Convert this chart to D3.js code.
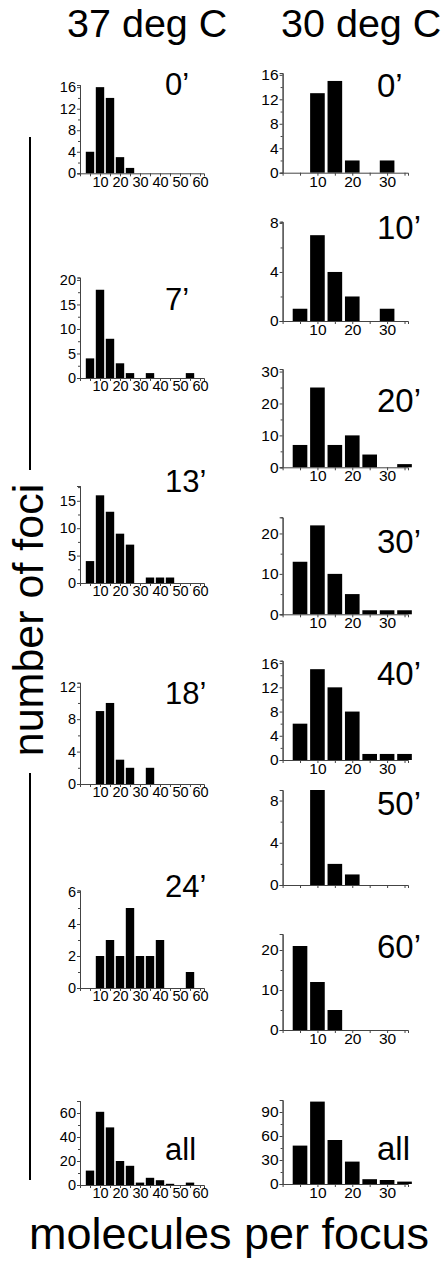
<!DOCTYPE html>
<html><head><meta charset="utf-8">
<script src="https://cdn.jsdelivr.net/npm/d3@7"></script>
<style>body{margin:0;background:#fff}svg{display:block}text{font-family:"Liberation Sans",Arial,sans-serif;fill:#000}</style>
</head><body><svg id="c" width="441" height="1263"></svg>
<script>
// ---- data ----
const bins37 = [5,10,15,20,25,30,35,40,45,50,55,60];
const bins30 = [5,10,15,20,25,30,35];
const xTicks37 = [10,20,30,40,50,60];
const xTicks30 = [10,20,30];

const c37_0  = [4,16,14,3,1,0,0,0,0,0,0,0];
const c37_7  = [4,18,8,3,1,0,1,0,0,0,1,0];
const c37_13 = [4,16,13,9,7,0,1,1,1,0,0,0];
const c37_18 = [0,9,10,3,2,0,2,0,0,0,0,0];
const c37_24 = [0,2,3,2,5,2,2,3,0,0,1,0];
const c37_all= [12,61,48,20,16,2,6,4,1,0,2,0];

const c30_0  = [0,13,15,2,0,2,0];
const c30_10 = [1,7,4,2,0,1,0];
const c30_20 = [7,25,7,10,4,0,1];
const c30_30 = [13,22,10,5,1,1,1];
const c30_40 = [6,15,12,8,1,1,1];
const c30_50 = [0,9,2,1,0,0,0];
const c30_60 = [21,12,5,0,0,0,0];
const c30_all= [48,103,55,28,6,5,3];

const labels37 = ["0\u2019","7\u2019","13\u2019","18\u2019","24\u2019","all"];
const labels30 = ["0\u2019","10\u2019","20\u2019","30\u2019","40\u2019","50\u2019","60\u2019","all"];
const yTicks37 = [[0,4,8,12,16],[0,5,10,15,20],[0,5,10,15],[0,4,8,12],[0,2,4,6],[0,20,40,60]];
const yTicks30 = [[0,4,8,12,16],[0,4,8],[0,10,20,30],[0,10,20],[0,4,8,12,16],[0,4,8],[0,10,20],[0,30,60,90]];
const yMax37 = [16.4,20.5,17.7,12.5,6.1,70];
const yMax30 = [16.3,8.1,30.8,24,16.4,9,24,105];
const showX30 = [true,true,true,true,true,false,true,true];

// ---- layout ----
const L = {x0:80, x1:204, xmax:62, tickFont:14.5, labelX:165, labelSize:31,
  base:[173.3,378,583,784,988,1185], top:[85,277.5,486,682.7,890.4,1101],
  labelY:[95,310,492,704,897,1160]};
const R = {x0:282.6, x1:408, xmax:36, tickFont:15.5, labelX:377, labelSize:33,
  base:[172.7,321,467.3,614.3,760,885,1030,1184], top:[73,221.7,369,517.3,660.7,790,934,1100],
  labelY:[97,239,411.7,553,685,815,958,1160]};

const svg = d3.select("#c");

function panel(cfg, i, bins, counts, ymax, yt, xt, label, showX){
  const g = svg.append("g");
  const x = d3.scaleLinear().domain([0,cfg.xmax]).range([cfg.x0,cfg.x1]);
  const y = d3.scaleLinear().domain([0,ymax]).range([cfg.base[i],cfg.top[i]]);
  const hw = 2.1;
  g.selectAll("rect").data(bins.map((b,k)=>({b,v:counts[k]})).filter(d=>d.v>0))
    .enter().append("rect")
    .attr("x",d=>x(d.b-hw)).attr("width",d=>x(d.b+hw)-x(d.b-hw))
    .attr("y",d=>y(d.v)).attr("height",d=>y(0)-y(d.v)).attr("fill","#000");
  const step = yt[1]-yt[0];
  const minor = [];
  for(let v=step/2; v<ymax; v+=step) minor.push(v);
  const ya = g.append("g").attr("transform",`translate(${cfg.x0},0)`)
    .call(d3.axisLeft(y).tickValues(yt).tickSize(3).tickPadding(1).tickFormat(d3.format("d")));
  ya.append("g").call(d3.axisLeft(y).tickValues(minor).tickSize(2).tickFormat(""));
  g.append("g").attr("transform",`translate(0,${cfg.base[i]})`)
    .call(d3.axisBottom(x).tickValues(bins).tickSize(3).tickFormat(""));
  if(showX){
    g.append("g").attr("transform",`translate(0,${cfg.base[i]})`)
      .call(d3.axisBottom(x).tickValues(xt).tickSize(0).tickPadding(3).tickFormat(d3.format("d")))
      .select(".domain").remove();
  }
  g.selectAll(".domain").attr("stroke","#444").attr("stroke-width",1);
  g.selectAll(".tick line").attr("stroke","#444");
  g.selectAll(".tick text").attr("font-size",cfg.tickFont).attr("fill","#000")
    .style("font-family","'Liberation Sans',Arial,sans-serif");
  g.append("text").attr("x",cfg.labelX).attr("y",cfg.labelY[i])
    .attr("font-size",cfg.labelSize).text(label);
}

const s37 = [c37_0,c37_7,c37_13,c37_18,c37_24,c37_all];
const s30 = [c30_0,c30_10,c30_20,c30_30,c30_40,c30_50,c30_60,c30_all];
s37.forEach((c,i)=>panel(L,i,bins37,c,yMax37[i],yTicks37[i],xTicks37,labels37[i],true));
s30.forEach((c,i)=>panel(R,i,bins30,c,yMax30[i],yTicks30[i],xTicks30,labels30[i],showX30[i]));

// titles
svg.append("text").attr("x",67).attr("y",37).attr("font-size",39.5).text("37 deg C");
svg.append("text").attr("x",281).attr("y",37).attr("font-size",39.5).text("30 deg C");
svg.append("text").attr("x",229).attr("y",1249).attr("text-anchor","middle").attr("font-size",45).text("molecules per focus");
svg.append("text").attr("transform","translate(43,620) rotate(-90)").attr("text-anchor","middle")
  .attr("font-size",43).text("number of foci");
svg.append("line").attr("x1",30).attr("x2",30).attr("y1",137).attr("y2",470).attr("stroke","#000").attr("stroke-width",2);
svg.append("line").attr("x1",30).attr("x2",30).attr("y1",773).attr("y2",1180).attr("stroke","#000").attr("stroke-width",2);
</script></body></html>
